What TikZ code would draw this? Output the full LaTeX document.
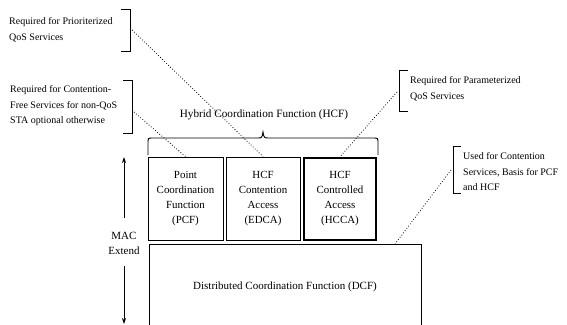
\documentclass[tikz,border=0pt]{standalone}
\usepackage{fontspec}
\setmainfont{Liberation Serif}
\usetikzlibrary{arrows.meta}
\begin{document}
\begin{tikzpicture}[x=1pt,y=-1pt,
  note/.style={anchor=west,align=left,inner sep=0pt,font=\fontsize{10}{15.5}\selectfont},
  fbox/.style={draw,line width=0.8pt,align=center,font=\fontsize{10.9}{15}\selectfont},
  bracket/.style={line width=0.9pt},
  dotline/.style={dotted,line width=0.8pt},
  lbl/.style={font=\fontsize{11}{15}\selectfont,align=center,inner sep=0pt}]
\useasboundingbox (0,0) rectangle (567,324);
% boxes
\node[fbox,minimum width=75pt,minimum height=83pt] (pcf) at (185.5,198.5) {Point\\Coordination\\Function\\(PCF)};
\node[fbox,minimum width=74pt,minimum height=83pt] (edca) at (263,198.5) {HCF\\Contention\\Access\\(EDCA)};
\node[fbox,line width=2.5pt,minimum width=72pt,minimum height=82pt] (hcca) at (340,199) {HCF\\Controlled\\Access\\(HCCA)};
\draw[line width=0.8pt] (149,330) -- (149,244) coordinate (dcftl) -- (421,244) coordinate (dcftr) -- (421,330);
\coordinate (dcfanchor) at (395,244);
\node[lbl] (dcf) at (285,287) {Distributed Coordination Function (DCF)};
% HCF brace
\node[lbl,font=\fontsize{11.2}{15}\selectfont] (hcf) at (264,115) {Hybrid Coordination Function (HCF)};
\draw[line width=0.9pt] (148,155) -- (148,143) .. controls (148,138) .. (153,138) -- (257,138)
  .. controls (262,138) .. (263,132) .. controls (264,138) .. (269,138) -- (373,138)
  .. controls (378,138) .. (378,143) -- (378,155);
% annotations
\node[note] (n1) at (9,30) {Required for Prioriterized\\QoS Services};
\draw[bracket] (121,9) -- (130,9) -- (130,51) -- (121,51);
\coordinate (b1) at (132,30);
\draw[dotline] (b1) -- (edca.north);

\node[note] (n2) at (10,106) {Required for Contention-\\Free Services for non-QoS\\STA optional otherwise};
\draw[bracket] (123,80) -- (132,80) -- (132,133) -- (123,133);
\coordinate (b2) at (134,112);
\draw[dotline] (b2) -- (pcf.north);

\node[note] (n3) at (410,89) {Required for Parameterized\\QoS Services};
\draw[bracket] (408,70) -- (399,70) -- (399,111) -- (408,111);
\coordinate (b3) at (397,92);
\draw[dotline] (b3) -- (hcca.north);

\node[note] (n4) at (463,172) {Used for Contention\\Services, Basis for PCF\\and HCF};
\draw[bracket] (461,146) -- (453,146) -- (453,193) -- (461,193);
\coordinate (b4) at (451,170);
\draw[dotline] (b4) -- (dcfanchor);

% MAC extend arrow
\node[lbl] (mac) at (124,243) {MAC\\Extend};
\coordinate (atop) at (124,157);
\coordinate (abot) at (124,324);
\draw[line width=0.9pt,-{Stealth[length=6pt,width=4pt]}] (mac.north) ++(0,-14) -- (atop);
\draw[line width=0.9pt,-{Stealth[length=6pt,width=4pt]}] (mac.south) ++(0,12) -- (abot);
\end{tikzpicture}
\end{document}
